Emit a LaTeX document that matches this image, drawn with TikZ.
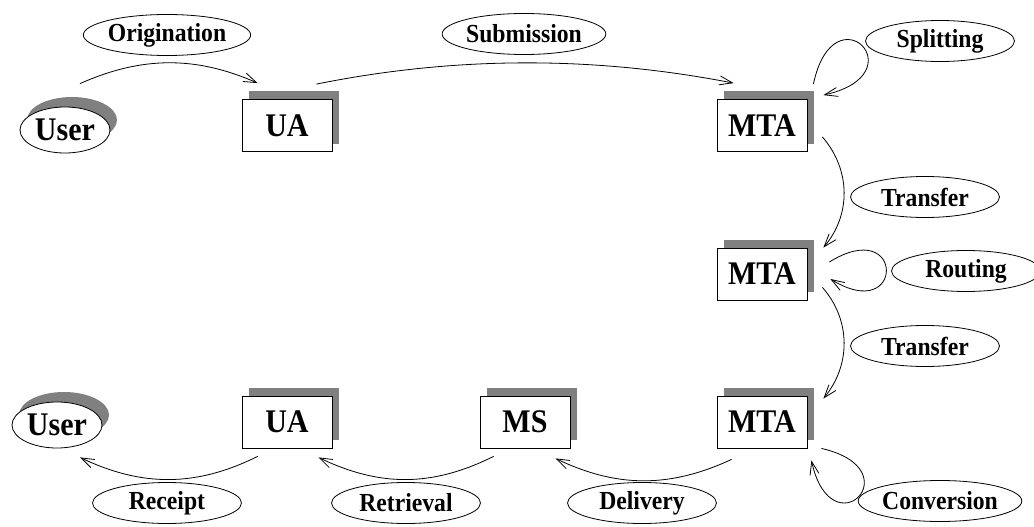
\documentclass[tikz,border=0pt]{standalone}
\usepackage{fontspec}
\setmainfont{Liberation Serif}[FakeStretch=0.91]
\usetikzlibrary{shapes.geometric,shadows,arrows.meta}
\definecolor{shade}{HTML}{808080}
\begin{document}
\begin{tikzpicture}[x=1pt,y=-1pt,
  unit/.style={draw, line width=0.8pt, fill=white, minimum width=90pt,
    minimum height=52pt, inner sep=0pt,
    font=\fontsize{33}{33}\selectfont\bfseries,
    drop shadow={opacity=1, fill=shade, shadow xshift=7pt, shadow yshift=8pt}},
  person/.style={ellipse, draw, line width=0.8pt, fill=white,
    minimum width=90pt, minimum height=46pt, inner sep=0pt,
    font=\fontsize{33}{33}\selectfont\bfseries,
    drop shadow={opacity=1, fill=shade, shadow xshift=7pt, shadow yshift=10pt}},
  act/.style={ellipse, draw, line width=0.8pt, minimum width=149pt,
    minimum height=41pt, inner sep=0pt,
    font=\fontsize{26}{26}\selectfont\bfseries},
  flow/.style={line width=0.8pt, -{Straight Barb[length=13pt,width=9pt]}}]
\useasboundingbox (0,0) rectangle (1034,527);

% agents
\node[person] (user1) at (65,130) {User};
\node[unit]   (ua1)   at (287,125.5) {UA};
\node[unit]   (mta1)  at (762,125.5) {MTA};
\node[unit]   (mta2)  at (762,274) {MTA};
\node[unit]   (mta3)  at (762,422) {MTA};
\node[unit]   (ms)    at (525,422) {MS};
\node[unit]   (ua2)   at (287,422) {UA};
\node[person] (user2) at (57,425) {User};

% actions
\node[act] (orig)  at (167,35)  {Origination};
\node[act] (subm)  at (524,34)  {Submission};
\node[act] (split) at (940,41)  {Splitting};
\node[act] (tr1)   at (925,197) {Transfer};
\node[act] (rout)  at (966,271) {Routing};
\node[act] (tr2)   at (925,346) {Transfer};
\node[act] (conv)  at (940,501) {Conversion};
\node[act] (rcpt)  at (167,503) {Receipt};
\node[act] (retr)  at (406,503) {Retrieval};
\node[act] (deliv) at (642,503) {Delivery};

% message path
\draw[flow] ([shift={(15,-23)}]user1.north) .. controls (142,56) and (196,56)
  .. ([shift={(16,-16)}]ua1.north west);
\draw[flow] ([shift={(-16,-15)}]ua1.north east) .. controls (456,56) and (594,56)
  .. ([shift={(17,-16)}]mta1.north west);
\draw[flow] ([shift={(6,-15)}]mta1.north east) .. controls (833.6,-11.8) and (919,73.7)
  .. ([shift={(16,-4)}]mta1.north east);
\draw[flow] ([shift={(15,-15)}]mta1.south east) .. controls (851,170) and (851,215)
  .. ([shift={(16,0)}]mta2.north east);
\draw[flow] ([shift={(22,-12)}]mta2.east) .. controls (905,215) and (905,325)
  .. ([shift={(23,5)}]mta2.east);
\draw[flow] ([shift={(15,-13)}]mta2.south east) .. controls (851,320) and (851,365)
  .. ([shift={(16,3)}]mta3.north east);
\draw[flow] ([shift={(14,0)}]mta3.south east) .. controls (913.6,469.6) and (831.6,551.6)
  .. ([shift={(4,12)}]mta3.south east);
\draw[flow] ([shift={(15,11)}]mta3.south west) .. controls (670,488) and (617,488)
  .. ([shift={(-15,10)}]ms.south east);
\draw[flow] ([shift={(14,8)}]ms.south west) .. controls (432,487) and (380,487)
  .. ([shift={(-14,9)}]ua2.south east);
\draw[flow] ([shift={(16,8)}]ua2.south west) .. controls (196,487) and (142,487)
  .. ([shift={(23,9)}]user2.south);
\end{tikzpicture}
\end{document}
